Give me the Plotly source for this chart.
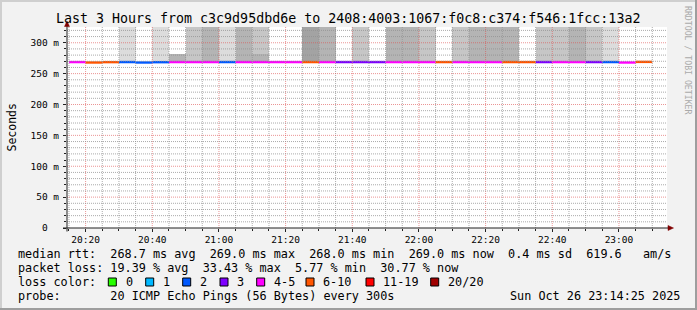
import plotly.graph_objects as go
from datetime import datetime, timedelta

# ---------------- data ----------------
DAY = "2025-10-26"
bin_start = ["20:15", "20:20", "20:25", "20:30", "20:35", "20:40", "20:45", "20:50", "20:55",
             "21:00", "21:05", "21:10", "21:15", "21:20", "21:25", "21:30", "21:35", "21:40",
             "21:45", "21:50", "21:55", "22:00", "22:05", "22:10", "22:15", "22:20", "22:25",
             "22:30", "22:35", "22:40", "22:45", "22:50", "22:55", "23:00", "23:05"]
median_ms = [268.7, 268.0, 268.6, 268.7, 268.0, 268.5, 268.7, 268.7, 268.7,
             268.7, 268.7, 268.7, 268.7, 268.7, 268.7, 268.7, 268.7, 268.7,
             268.7, 268.7, 268.7, 268.7, 268.7, 268.7, 268.7, 268.7, 268.7,
             268.7, 268.7, 268.7, 268.7, 268.7, 268.7, 268.0, 269.0]
lost_pings = [4, 7, 6, 2, 2, 2, 5, 4, 5,
              2, 4, 5, 4, 4, 6, 5, 3, 3,
              3, 4, 5, 4, 6, 4, 5, 4, 6,
              7, 3, 4, 5, 3, 2, 4, 6]
# upper smoke (ms) and number of pings spread in it (None = no smoke)
smoke_hi = [None, None, None, 1000, None, 1000, 281, 1000, 1000,
            1000, 1000, 1000, None, None, 1000, 1000, None, 1000,
            None, 1000, 1000, 1000, None, 1000, 1000, 1000, 1000,
            None, 1000, 1000, 1000, 1000, 1000, None, None]
smoke_n = [0, 0, 0, 2, 0, 2, 6, 4, 6,
           2, 6, 4, 0, 0, 8, 6, 0, 4,
           0, 6, 6, 4, 0, 4, 6, 6, 6,
           0, 4, 4, 6, 4, 2, 0, 0]
core_hi = [None] * 11 + [281] + [None] * 23
core_n = [0] * 11 + [6] + [0] * 23

y_tickvals = [0, 50, 100, 150, 200, 250, 300]
y_ticktext = ["0\u00a0\u00a0", "50 m", "100 m", "150 m", "200 m", "250 m", "300 m"]

loss_labels = ["0", "1", "2", "3", "4-5", "6-10", "11-19", "20/20"]
loss_upper = [0, 1, 2, 3, 5, 10, 19, 20]
loss_colors = ["#26ff00", "#00b8ff", "#0059ff", "#7e00ff", "#ff00ff", "#ff5500", "#ff0000", "#a00000"]

rtt_stats = [("268.7", "avg"), ("269.0", "max"), ("268.0", "min"), ("269.0", "now")]
rtt_sd = "0.4"
rtt_ams = "619.6"
loss_stats = [("19.39", "avg"), ("33.43", "max"), ("5.77", "min"), ("30.77", "now")]
probe_text = "20 ICMP Echo Pings (56 Bytes) every 300s"
stamp_text = "Sun Oct 26 23:14:25 2025"
title_text = "Last 3 Hours from c3c9d95dbd6e to 2408:4003:1067:f0c8:c374:f546:1fcc:13a2"

# ---------------- helpers ----------------
STEP = timedelta(minutes=5)
starts = [datetime.fromisoformat(f"{DAY} {t}") for t in bin_start]
centers = [s + STEP / 2 for s in starts]
BW = 300000  # bar width in ms

GRAY = {2: "#dcdcdc", 4: "#c6c6c6", 6: "#b4b4b4", 8: "#a3a3a3"}
FONT = "DejaVu Sans Mono"

L, T, W, H = 67, 27, 600, 201


def px(x):
    return (x - L) / W


def py(y):
    return (T + H - y) / H


def loss_color(n):
    for ub, c in zip(loss_upper, loss_colors):
        if n <= ub:
            return c
    return loss_colors[-1]


fig = go.Figure()

# smoke bars (outer then core)
for hi_list, n_list in ((smoke_hi, smoke_n), (core_hi, core_n)):
    for n, col in GRAY.items():
        xs, bases, hs = [], [], []
        for c, m, hi, k in zip(centers, median_ms, hi_list, n_list):
            if hi is not None and k == n:
                xs.append(c)
                bases.append(m)
                hs.append(hi - m)
        if xs:
            fig.add_trace(go.Bar(x=xs, y=hs, base=bases, width=[BW] * len(xs),
                                 marker=dict(color=col, line=dict(width=0)),
                                 showlegend=False, hoverinfo="skip"))

# median line segments coloured by loss
for col in loss_colors:
    xs, ys = [], []
    for s, m, n in zip(starts, median_ms, lost_pings):
        if loss_color(n) == col:
            xs += [s, s + STEP, None]
            ys += [m, m, None]
    if xs:
        fig.add_trace(go.Scatter(x=xs, y=ys, mode="lines",
                                 line=dict(color=col, width=2.4),
                                 showlegend=False, hoverinfo="skip"))

# grid (drawn above the smoke, like rrdtool)
shapes = []
MINOR = "rgba(143,143,143,0.75)"
MAJOR = "rgba(222,79,79,0.6)"
t = datetime.fromisoformat(f"{DAY} 20:15")
tend = datetime.fromisoformat(f"{DAY} 23:14")
while t <= tend:
    major = t.minute % 20 == 0
    shapes.append(dict(type="line", xref="x", yref="paper", x0=t, x1=t, y0=0, y1=1,
                       line=dict(color=MAJOR if major else MINOR, width=1, dash="1px,1px"),
                       layer="above"))
    t += STEP
for v in range(10, 330, 10):
    major = v % 50 == 0
    shapes.append(dict(type="line", xref="paper", yref="y", x0=0, x1=1, y0=v, y1=v,
                       line=dict(color=MAJOR if major else MINOR, width=1, dash="1px,1px"),
                       layer="above"))

# axes lines & arrows
AX = "#212121"
AR = "#800000"
shapes.append(dict(type="line", xref="paper", yref="paper", x0=px(63), x1=px(669),
                   y0=py(228), y1=py(228), line=dict(color=AX, width=1), layer="above"))
shapes.append(dict(type="line", xref="paper", yref="paper", x0=px(67), x1=px(67),
                   y0=py(231.5), y1=py(24), line=dict(color=AX, width=1), layer="above"))
shapes.append(dict(type="path", xref="paper", yref="paper",
                   path=f"M {px(668)} {py(225.5)} L {px(673.5)} {py(228)} L {px(668)} {py(230.5)} Z",
                   fillcolor=AR, line=dict(color=AR, width=0.5), layer="above"))
shapes.append(dict(type="path", xref="paper", yref="paper",
                   path=f"M {px(64.5)} {py(26.5)} L {px(67)} {py(21)} L {px(69.5)} {py(26.5)} Z",
                   fillcolor=AR, line=dict(color=AR, width=0.5), layer="above"))

# frame shading
shapes.append(dict(type="rect", xref="paper", yref="paper", x0=px(0), x1=px(697), y0=py(0), y1=py(2),
                   fillcolor="#cfcfcf", line=dict(width=0), layer="below"))
shapes.append(dict(type="rect", xref="paper", yref="paper", x0=px(0), x1=px(2), y0=py(0), y1=py(310),
                   fillcolor="#cfcfcf", line=dict(width=0), layer="below"))
shapes.append(dict(type="rect", xref="paper", yref="paper", x0=px(695), x1=px(697), y0=py(0), y1=py(310),
                   fillcolor="#9e9e9e", line=dict(width=0), layer="below"))
shapes.append(dict(type="rect", xref="paper", yref="paper", x0=px(0), x1=px(697), y0=py(308), y1=py(310),
                   fillcolor="#9e9e9e", line=dict(width=0), layer="below"))

# ---------------- texts ----------------
def nb(s):
    return s.replace(" ", "\u00a0")


ann = []
ann.append(dict(text=title_text, x=px(347.5), y=py(19), xref="paper", yref="paper",
                xanchor="center", yanchor="middle", showarrow=False,
                font=dict(family=FONT, size=13.3, color="#000")))
ann.append(dict(text="Seconds", x=px(11), y=py(127.5), xref="paper", yref="paper",
                textangle=-90, xanchor="center", yanchor="middle", showarrow=False,
                font=dict(family=FONT, size=11.5, color="#000")))
ann.append(dict(text="RRDTOOL / TOBI OETIKER", x=px(688), y=py(60), xref="paper", yref="paper",
                textangle=90, xanchor="center", yanchor="middle", showarrow=False,
                font=dict(family=FONT, size=8.2, color="#aaaaaa")))

line1 = "median rtt:  " + "".join(f"{v} ms {k}  " for v, k in rtt_stats) + f"{rtt_sd} ms sd  {rtt_ams}   am/s"
line2 = "packet loss: " + "  ".join(f"{v} % {k}" for v, k in loss_stats)
line3 = "loss color:"
line4 = "probe:       " + probe_text
LFS = 11.8
for txt, yy in ((line1, 253.7), (line2, 267.7), (line3, 281.7), (line4, 295.7)):
    ann.append(dict(text=nb(txt), x=px(16), y=py(yy), xref="paper", yref="paper",
                    xanchor="left", yanchor="middle", showarrow=False,
                    font=dict(family=FONT, size=LFS, color="#000")))
ann.append(dict(text=nb(stamp_text), x=px(682), y=py(295.7), xref="paper", yref="paper",
                xanchor="right", yanchor="middle", showarrow=False,
                font=dict(family=FONT, size=LFS, color="#000")))

box_x = [108.3, 145.7, 182.7, 220.0, 256.7, 306.0, 366.0, 430.7]
for bx, lab, col in zip(box_x, loss_labels, loss_colors):
    shapes.append(dict(type="rect", xref="paper", yref="paper", x0=px(bx), x1=px(bx + 8),
                       y0=py(278), y1=py(286), fillcolor=col, line=dict(color="#000", width=1),
                       layer="above"))
    ann.append(dict(text=lab, x=px(bx + 15.3), y=py(281.7), xref="paper", yref="paper",
                    xanchor="left", yanchor="middle", showarrow=False,
                    font=dict(family=FONT, size=LFS, color="#000")))

fig.update_layout(
    width=697, height=310,
    margin=dict(l=L, r=697 - L - W, t=T, b=310 - T - H, pad=0),
    paper_bgcolor="#f2f2f2", plot_bgcolor="#ffffff",
    barmode="overlay", bargap=0,
    showlegend=False,
    shapes=shapes, annotations=ann,
    xaxis=dict(type="date", range=[f"{DAY} 20:14:25", f"{DAY} 23:14:25"],
               tick0=f"{DAY} 20:00", dtick=1200000, tickformat="%H:%M",
               showgrid=False, zeroline=False, showline=False,
               ticks="outside", ticklen=3, tickcolor=AX,
               tickfont=dict(family=FONT, size=9.5, color="#000"),
               minor=dict(ticks="outside", ticklen=2, dtick=300000, tickcolor=AX, showgrid=False),
               fixedrange=True),
    yaxis=dict(range=[0, 325.5], tickvals=y_tickvals, ticktext=y_ticktext,
               showgrid=False, zeroline=False, showline=False,
               ticks="outside", ticklen=3, tickcolor=AX, ticklabelstandoff=2,
               tickfont=dict(family=FONT, size=9.5, color="#000"),
               minor=dict(ticks="outside", ticklen=2, dtick=10, tickcolor=AX, showgrid=False),
               fixedrange=True),
)

fig.write_html("out.html")
